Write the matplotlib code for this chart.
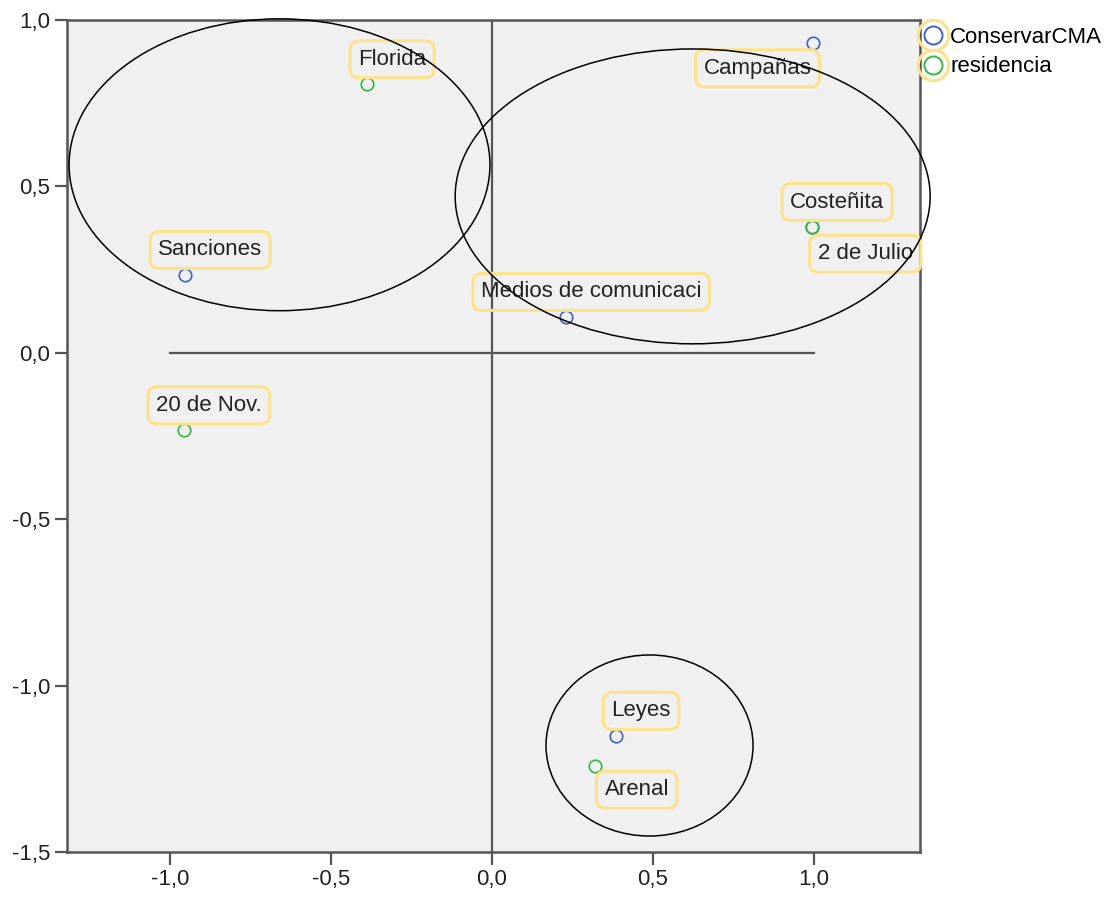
import matplotlib
matplotlib.use("Agg")
import matplotlib.pyplot as plt
from matplotlib.patches import Ellipse
from matplotlib.lines import Line2D
from matplotlib.legend_handler import HandlerTuple

plt.rcParams['font.family'] = ['Liberation Sans', 'DejaVu Sans']

# ---- data ----
cma_labels = ["Campañas", "Sanciones", "Medios de comunicaci", "Leyes", "2 de Julio"]
cma_x = [0.997, -0.953, 0.230, 0.385, 0.995]
cma_y = [0.930, 0.234, 0.108, -1.151, 0.377]

res_labels = ["Florida", "Costeñita", "20 de Nov.", "Arenal"]
res_x = [-0.388, 0.994, -0.957, 0.320]
res_y = [0.807, 0.378, -0.233, -1.242]

series_names = ["ConservarCMA", "residencia"]

# ellipses drawn over the map: centre x, centre y, width, height
ell_cx = [-0.660, 0.623, 0.489]
ell_cy = [0.565, 0.470, -1.180]
ell_w = [1.307, 1.475, 0.643]
ell_h = [0.877, 0.886, 0.544]

xticks = [-1.0, -0.5, 0.0, 0.5, 1.0]
yticks = [-1.5, -1.0, -0.5, 0.0, 0.5, 1.0]

blue = "#4361c2"
green = "#33b840"
yellow = "#fde28a"
axis_grey = "#555555"

# label offsets in points (text centre relative to point)
default_off = (18, 18)
special_off = {"Campañas": (-40, -18), "2 de Julio": (38, -19), "Arenal": (30, -17)}

fig = plt.figure(figsize=(11.12, 8.98), dpi=100)
ax = fig.add_axes([67 / 1112, 1 - 852 / 898, (920 - 67) / 1112, (852 - 20) / 898])
ax.set_facecolor("#f0f0f0")

ax.set_xlim(-1.32, 1.329)
ax.set_ylim(-1.5, 1.0)

# reference lines
ax.axvline(0, color=axis_grey, lw=1.6, zorder=1)
ax.plot([-1, 1], [0, 0], color=axis_grey, lw=1.6, zorder=1)

ax.plot(cma_x, cma_y, ls="none", marker="o", ms=9, mfc="none", mec=blue, mew=1.2, zorder=3)
ax.plot(res_x, res_y, ls="none", marker="o", ms=9, mfc="none", mec=green, mew=1.2, zorder=4)

for lab, x, y in list(zip(cma_labels, cma_x, cma_y)) + list(zip(res_labels, res_x, res_y)):
    off = special_off.get(lab, default_off)
    ax.annotate(lab, (x, y), xytext=off, textcoords="offset points",
                ha="center", va="center", fontsize=16, color="#222222", zorder=5,
                bbox=dict(boxstyle="round,pad=0.36,rounding_size=0.4", fc="none",
                          ec=yellow, lw=2.2))

for cx, cy, w, h in zip(ell_cx, ell_cy, ell_w, ell_h):
    ax.add_patch(Ellipse((cx, cy), w, h, fill=False, ec="black", lw=1.1,
                         clip_on=False, zorder=6))

ax.set_xticks(xticks)
ax.set_xticklabels([("%.1f" % t).replace(".", ",") for t in xticks])
ax.set_yticks(yticks)
ax.set_yticklabels([("%.1f" % t).replace(".", ",") for t in yticks])
ax.tick_params(direction="out", length=9, width=1.6, color=axis_grey,
               labelsize=16, labelcolor="#222222", pad=3)
for s in ax.spines.values():
    s.set_color(axis_grey)
    s.set_linewidth(1.8)

# legend with the yellow selection rings
ring = Line2D([], [], ls="none", marker="o", ms=22, mfc="none", mec=yellow, mew=2.2)
h_blue = Line2D([], [], ls="none", marker="o", ms=13, mfc="none", mec=blue, mew=1.4)
h_green = Line2D([], [], ls="none", marker="o", ms=13, mfc="none", mec=green, mew=1.4)
fig.legend(handles=[(ring, h_blue), (ring, h_green)], labels=series_names,
           handler_map={tuple: HandlerTuple(ndivide=1)},
           loc="upper left", bbox_to_anchor=(922 / 1112, 1 - 27 / 898),
           frameon=False, fontsize=16, handlelength=1.0, handletextpad=0.27,
           borderpad=0, borderaxespad=0, labelspacing=0.38)

fig.savefig("out.png", dpi=100, facecolor="white")
